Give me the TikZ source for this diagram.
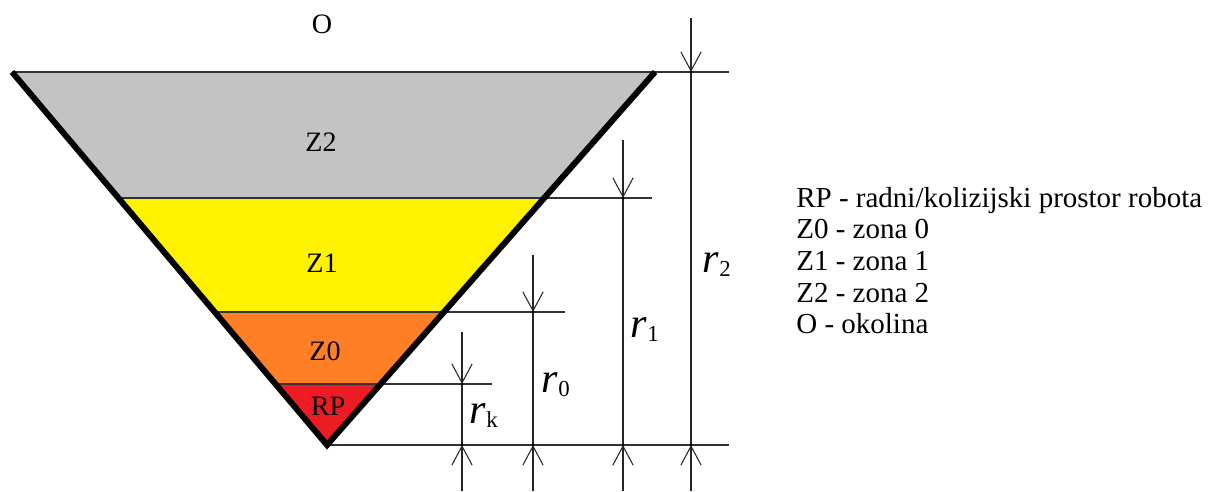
\documentclass[tikz,border=0pt]{standalone}
\usepackage{fontspec}
\setmainfont{Liberation Serif}
\usetikzlibrary{arrows.meta}
\definecolor{zgray}{HTML}{C3C3C3}
\definecolor{zyellow}{HTML}{FFF200}
\definecolor{zorange}{HTML}{FF7F27}
\definecolor{zred}{HTML}{ED1C24}
\newcommand\rlab[1]{{\fontsize{24}{24}\selectfont\itshape r}\kern0.3pt\raisebox{-2.8pt}{\fontsize{13}{13}\selectfont #1}}
\tikzset{
  dimline/.style={line width=0.8pt, black!85},
  barb/.style={-{Straight Barb[length=10.8pt, width=11.5pt, line width=0.6pt]}},
  thinline/.style={line width=0.7pt, black!80},
  zlabel/.style={font=\fontsize{16}{16}\selectfont, inner sep=0pt},
  legend/.style={font=\fontsize{16.5}{16.5}\selectfont, anchor=base west, inner sep=0pt},
  rlabel/.style={anchor=base west, inner sep=0pt}
}
\begin{document}
\begin{tikzpicture}[x=0.02cm, y=-0.02cm]
\useasboundingbox (0,0) rectangle (1211,491);
% triangle corners
\coordinate (TL) at (12,72);
\coordinate (TR) at (655,72);
\coordinate (AP) at (327,445);
% band edges
\coordinate (L1) at (118.4,198); \coordinate (R1) at (544.2,198);
\coordinate (L0) at (214.7,312); \coordinate (R0) at (444.0,312);
\coordinate (Lk) at (275.5,384); \coordinate (Rk) at (380.6,384);
% fills
\fill[zgray] (TL) -- (TR) -- (R1) -- (L1) -- cycle;
\fill[zyellow] (L1) -- (R1) -- (R0) -- (L0) -- cycle;
\fill[zorange] (L0) -- (R0) -- (Rk) -- (Lk) -- cycle;
\fill[zred] (Lk) -- (Rk) -- (AP) -- cycle;
% extension line ends
\coordinate (E2) at (729,72);
\coordinate (E1) at (652,198);
\coordinate (E0) at (565,312);
\coordinate (Ek) at (492,384);
\coordinate (EB) at (729,445);
\draw[thinline] (TL) -- (E2);
\draw[thinline] (L1) -- (E1);
\draw[thinline] (L0) -- (E0);
\draw[thinline] (Lk) -- (Ek);
\draw[thinline] (AP) -- (EB);
% thick outline
\draw[line width=3.4pt, miter limit=20] (TL) -- (AP) -- (TR);
% dimension lines
\foreach \n/\x/\yt/\yp in {2/691/18/72, 1/623/140/198, 0/533/255/312, k/462/332/384}{
  \coordinate (t\n) at (\x,\yt);
  \coordinate (p\n) at (\x,\yp);
  \coordinate (b\n) at (\x,445);
  \coordinate (e\n) at (\x,491);
  \draw[dimline, barb] (t\n) -- (p\n);
  \draw[dimline] (p\n) -- (b\n);
  \draw[dimline, barb] (e\n) -- (b\n);
  \fill (p\n) circle (1.6);
  \fill (b\n) circle (1.6);
}
% r labels
\node[rlabel] (lr2) at (702,272) {\rlab{2}};
\node[rlabel] (lr1) at (630,337) {\rlab{1}};
\node[rlabel] (lr0) at (541,392) {\rlab{0}};
\node[rlabel] (lrk) at (469,423) {\rlab{k}};
% zone labels
\node[zlabel] (lO) at (322,24) {O};
\node[zlabel] (lZ2) at (321,142) {Z2};
\node[zlabel] (lZ1) at (322,263) {Z1};
\node[zlabel] (lZ0) at (325,351) {Z0};
\node[zlabel] (lRP) at (328,406) {RP};
% legend
\node[legend] (g1) at (796,207) {RP - radni/kolizijski prostor robota};
\node[legend] (g2) at (796,238.7) {Z0 - zona 0};
\node[legend] (g3) at (796,270.4) {Z1 - zona 1};
\node[legend] (g4) at (796,302) {Z2 - zona 2};
\node[legend] (g5) at (796,333.8) {O - okolina};
\end{tikzpicture}
\end{document}
